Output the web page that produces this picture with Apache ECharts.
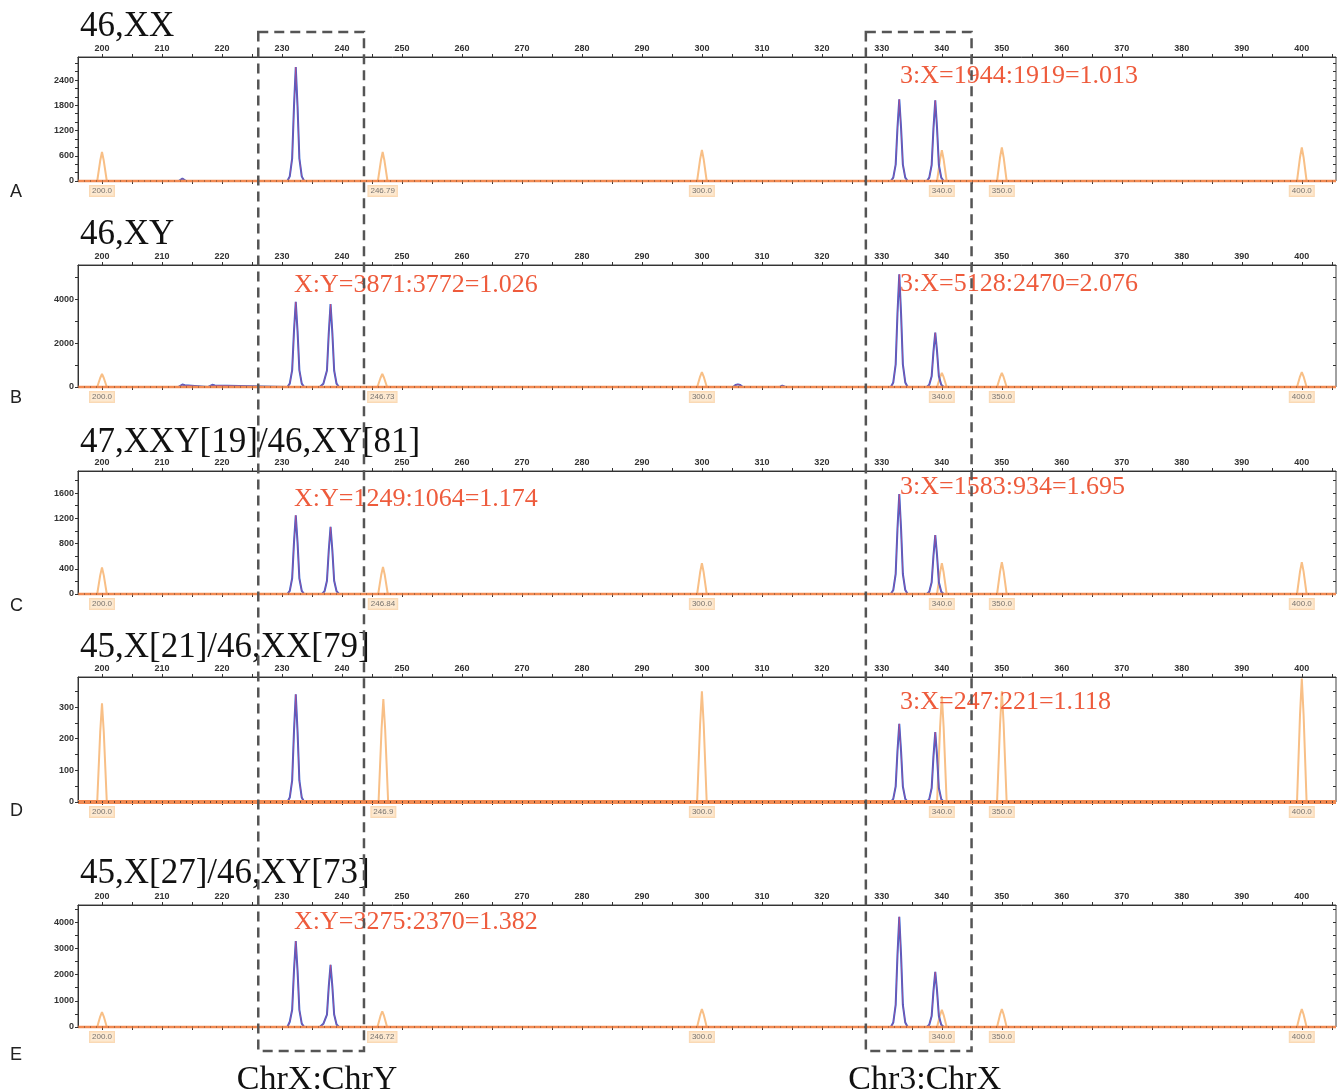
<!DOCTYPE html>
<html><head><meta charset="utf-8">
<script src="https://cdn.jsdelivr.net/npm/echarts@6/dist/echarts.min.js"></script>
<style>html,body{margin:0;padding:0;background:#fff}#c{width:1341px;height:1092px}</style>
</head><body><div id="c"></div>
<script>
// ---------- DATA ----------
const panelLetters = ['A', 'B', 'C', 'D', 'E'];
const karyotypes = ['46,XX', '46,XY', '47,XXY[19]/46,XY[81]', '45,X[21]/46,XX[79]', '45,X[27]/46,XY[73]'];
const xTickLabels = [200, 210, 220, 230, 240, 250, 260, 270, 280, 290, 300, 310, 320, 330, 340, 350, 360, 370, 380, 390, 400];
const xTickMarks = [200, 205, 210, 215, 220, 225, 230, 235, 240, 245, 250, 255, 260, 265, 270, 275, 280, 285, 290, 295, 300, 305, 310, 315, 320, 325, 330, 335, 340, 345, 350, 355, 360, 365, 370, 375, 380, 385, 390, 395, 400, 405];
const yMaxA = 2950, yMaxB = 5550, yMaxC = 1950, yMaxD = 395, yMaxE = 4650;
const yLabelsA = [0, 600, 1200, 1800, 2400];
const yLabelsB = [0, 2000, 4000];
const yLabelsC = [0, 400, 800, 1200, 1600];
const yLabelsD = [0, 100, 200, 300];
const yLabelsE = [0, 1000, 2000, 3000, 4000];
const yTicksA = [0, 200, 400, 600, 800, 1000, 1200, 1400, 1600, 1800, 2000, 2200, 2400, 2600, 2800];
const yTicksB = [0, 1000, 2000, 3000, 4000, 5000];
const yTicksC = [0, 200, 400, 600, 800, 1000, 1200, 1400, 1600, 1800];
const yTicksD = [0, 50, 100, 150, 200, 250, 300, 350];
const yTicksE = [0, 500, 1000, 1500, 2000, 2500, 3000, 3500, 4000, 4500];

// size-standard peak positions and their labels
const stdPosA = [200, 246.79, 300, 340, 350, 400];
const stdPosB = [200, 246.73, 300, 340, 350, 400];
const stdPosC = [200, 246.84, 300, 340, 350, 400];
const stdPosD = [200, 246.9, 300, 340, 350, 400];
const stdPosE = [200, 246.72, 300, 340, 350, 400];
const stdLblA = ['200.0', '246.79', '300.0', '340.0', '350.0', '400.0'];
const stdLblB = ['200.0', '246.73', '300.0', '340.0', '350.0', '400.0'];
const stdLblC = ['200.0', '246.84', '300.0', '340.0', '350.0', '400.0'];
const stdLblD = ['200.0', '246.9', '300.0', '340.0', '350.0', '400.0'];
const stdLblE = ['200.0', '246.72', '300.0', '340.0', '350.0', '400.0'];

// blue (sample) traces: [size, RFU]
const blueA = [[196,0],
 [212.8,0],[213.1,40],[213.4,60],[213.7,40],[214.0,0],
 [230.9,0],[231.3,110],[231.7,540],[232.0,1760],[232.3,2710],[232.6,1760],[232.9,540],[233.3,110],[233.7,0],
 [331.5,0],[331.9,80],[332.3,390],[332.6,1260],[332.9,1944],[333.2,1260],[333.5,390],[333.9,80],[334.3,0],
 [337.5,0],[337.9,80],[338.3,380],[338.6,1250],[338.9,1919],[339.2,1250],[339.5,380],[339.9,80],[340.3,0],
 [405.7,0]];
const blueB = [[196,0],
 [212.7,0],[213.0,80],[213.4,110],[213.8,80],[214.1,0],
 [217.7,0],[218.0,70],[218.4,100],[218.8,70],[219.1,0],
 [230.9,0],[231.3,155],[231.7,770],[232.0,2520],[232.3,3871],[232.6,2520],[232.9,770],[233.3,155],[233.7,0],
 [236.3,0],[236.9,150],[237.5,750],[237.8,2450],[238.1,3772],[238.4,2450],[238.7,750],[239.1,150],[239.5,0],
 [305.2,0],[305.6,90],[306.0,120],[306.4,90],[306.8,0],
 [313.0,0],[313.2,40],[313.4,60],[313.6,40],[313.9,0],
 [331.5,0],[331.9,205],[332.3,1030],[332.6,3330],[332.9,5128],[333.2,3330],[333.5,1030],[333.9,205],[334.3,0],
 [337.5,0],[337.9,100],[338.3,490],[338.6,1610],[338.9,2470],[339.2,1610],[339.5,490],[339.9,100],[340.3,0],
 [405.7,0]];
const blueC = [[196,0],
 [230.9,0],[231.3,50],[231.7,250],[232.0,810],[232.3,1249],[232.6,810],[232.9,250],[233.3,50],[233.7,0],
 [236.7,0],[237.1,45],[237.5,210],[237.8,690],[238.1,1064],[238.4,690],[238.7,210],[239.1,45],[239.5,0],
 [331.5,0],[331.9,63],[332.3,317],[332.6,1030],[332.9,1583],[333.2,1030],[333.5,317],[333.9,63],[334.3,0],
 [337.5,0],[337.9,37],[338.3,187],[338.6,607],[338.9,934],[339.2,607],[339.5,187],[339.9,37],[340.3,0],
 [405.7,0]];
const blueD = [[196,0],
 [230.9,0],[231.3,14],[231.7,68],[232.0,221],[232.3,340],[232.6,221],[232.9,68],[233.3,14],[233.7,0],
 [331.5,0],[331.9,10],[332.3,49],[332.6,160],[332.9,247],[333.2,160],[333.5,49],[333.9,10],[334.3,0],
 [337.5,0],[337.9,9],[338.3,44],[338.6,144],[338.9,221],[339.2,144],[339.5,44],[339.9,9],[340.3,0],
 [405.7,0]];
const blueE = [[196,0],
 [230.9,0],[231.3,200],[231.7,655],[232.0,2130],[232.3,3275],[232.6,2130],[232.9,655],[233.3,130],[233.7,0],
 [236.3,0],[236.9,120],[237.5,474],[237.8,1540],[238.1,2370],[238.4,1540],[238.7,474],[239.1,95],[239.5,0],
 [331.5,0],[331.9,168],[332.3,840],[332.6,2730],[332.9,4200],[333.2,2730],[333.5,840],[333.9,168],[334.3,0],
 [337.5,0],[337.9,84],[338.3,420],[338.6,1365],[338.9,2100],[339.2,1365],[339.5,420],[339.9,84],[340.3,0],
 [405.7,0]];

// orange (size standard) traces
const orangeA = [[196,0],
 [199.2,0],[199.7,480],[200,690],[200.3,480],[200.8,0],
 [245.99,0],[246.49,480],[246.79,690],[247.09,480],[247.59,0],
 [299.2,0],[299.7,515],[300,740],[300.3,515],[300.8,0],
 [339.2,0],[339.7,510],[340,730],[340.3,510],[340.8,0],
 [349.2,0],[349.7,560],[350,800],[350.3,560],[350.8,0],
 [399.2,0],[399.7,560],[400,800],[400.3,560],[400.8,0],
 [405.7,0]];
const orangeB = [[196,0],
 [199.2,0],[199.7,410],[200,590],[200.3,410],[200.8,0],
 [245.93,0],[246.43,410],[246.73,590],[247.03,410],[247.53,0],
 [299.2,0],[299.7,475],[300,680],[300.3,475],[300.8,0],
 [339.2,0],[339.7,445],[340,640],[340.3,445],[340.8,0],
 [349.2,0],[349.7,445],[350,640],[350.3,445],[350.8,0],
 [399.2,0],[399.7,475],[400,680],[400.3,475],[400.8,0],
 [405.7,0]];
const orangeC = [[196,0],
 [199.2,0],[199.7,295],[200,420],[200.3,295],[200.8,0],
 [246.04,0],[246.54,300],[246.84,430],[247.14,300],[247.64,0],
 [299.2,0],[299.7,340],[300,490],[300.3,340],[300.8,0],
 [339.2,0],[339.7,340],[340,490],[340.3,340],[340.8,0],
 [349.2,0],[349.7,355],[350,505],[350.3,355],[350.8,0],
 [399.2,0],[399.7,355],[400,505],[400.3,355],[400.8,0],
 [405.7,0]];
const orangeD = [[196,0],
 [199.2,0],[199.7,220],[200,312],[200.3,220],[200.8,0],
 [246.1,0],[246.6,230],[246.9,325],[247.2,230],[247.7,0],
 [299.2,0],[299.7,245],[300,350],[300.3,245],[300.8,0],
 [339.2,0],[339.7,235],[340,335],[340.3,235],[340.8,0],
 [349.2,0],[349.7,245],[350,350],[350.3,245],[350.8,0],
 [399.2,0],[399.7,275],[400,390],[400.3,275],[400.8,0],
 [405.7,0]];
const orangeE = [[196,0],
 [199.2,0],[199.7,400],[200,570],[200.3,400],[200.8,0],
 [245.92,0],[246.42,420],[246.72,600],[247.02,420],[247.52,0],
 [299.2,0],[299.7,475],[300,680],[300.3,475],[300.8,0],
 [339.2,0],[339.7,455],[340,650],[340.3,455],[340.8,0],
 [349.2,0],[349.7,475],[350,680],[350.3,475],[350.8,0],
 [399.2,0],[399.7,475],[400,680],[400.3,475],[400.8,0],
 [405.7,0]];

// ratio annotations per panel: [left, right]
const ratioLeft = ['', 'X:Y=3871:3772=1.026', 'X:Y=1249:1064=1.174', '', 'X:Y=3275:2370=1.382'];
const ratioRight = ['3:X=1944:1919=1.013', '3:X=5128:2470=2.076', '3:X=1583:934=1.695', '3:X=247:221=1.118', ''];
const boxLabels = ['ChrX:ChrY', 'Chr3:ChrX'];
const boxRanges = [[226.05, 243.67], [327.33, 344.95]];

// ---------- LAYOUT ----------
const X_MIN = 196, X_MAX = 405.7;
const gridTops = [57, 265, 471, 677, 905];
const gridHeights = [124, 122, 123, 125, 122];
const GL = 78, GR = 5;
const titleY = [23, 231, 439, 644, 870];
const letterY = [192, 398, 606, 811, 1055];
const ratioLeftY = [0, 285, 499, 0, 922];
const ratioRightY = [76, 284, 487, 702, 0];

const yMaxes = [yMaxA, yMaxB, yMaxC, yMaxD, yMaxE];
const yLabels = [yLabelsA, yLabelsB, yLabelsC, yLabelsD, yLabelsE];
const yTicks = [yTicksA, yTicksB, yTicksC, yTicksD, yTicksE];
const stdPos = [stdPosA, stdPosB, stdPosC, stdPosD, stdPosE];
const stdLbl = [stdLblA, stdLblB, stdLblC, stdLblD, stdLblE];
const blues = [blueA, blueB, blueC, blueD, blueE];
const oranges = [orangeA, orangeB, orangeC, orangeD, orangeE];

const AX = '#333';
const grids = [], xAxes = [], yAxes = [], series = [];
for (let i = 0; i < 5; i++) {
  grids.push({left: GL, right: GR, top: gridTops[i], height: gridHeights[i], show: true,
    borderColor: '#444', borderWidth: 1, backgroundColor: 'transparent'});
  xAxes.push({gridIndex: i, type: 'value', position: 'top', min: X_MIN, max: X_MAX,
    axisLine: {show: true, onZero: false, lineStyle: {color: AX, width: 1}},
    axisTick: {show: true, customValues: xTickMarks, length: 3, lineStyle: {color: AX}},
    axisLabel: {customValues: xTickLabels, fontSize: 9, fontWeight: 'bold', color: '#333', margin: 4,
      fontFamily: 'Liberation Sans', formatter: v => String(v)},
    splitLine: {show: false}});
  xAxes.push({gridIndex: i, type: 'value', position: 'top', min: X_MIN, max: X_MAX,
    axisLine: {show: false}, axisLabel: {show: false}, splitLine: {show: false},
    axisTick: {show: true, inside: true, customValues: xTickMarks, length: 3, lineStyle: {color: AX}}});
  yAxes.push({gridIndex: i, type: 'value', min: 0, max: yMaxes[i],
    axisLine: {show: true, onZero: false, lineStyle: {color: AX, width: 1}},
    axisTick: {show: true, customValues: yTicks[i], length: 3, lineStyle: {color: AX}},
    axisLabel: {customValues: yLabels[i], fontSize: 9, fontWeight: 'bold', color: '#333', margin: 4,
      fontFamily: 'Liberation Sans', formatter: v => String(v)},
    splitLine: {show: false}});
  yAxes.push({gridIndex: i, type: 'value', min: 0, max: yMaxes[i],
    axisLine: {show: false}, axisLabel: {show: false}, splitLine: {show: false},
    axisTick: {show: true, inside: true, customValues: yTicks[i], length: 3, lineStyle: {color: AX}}});
  const xi = 2 * i, yi = 2 * i;
  series.push({type: 'line', xAxisIndex: xi, yAxisIndex: yi, data: oranges[i], showSymbol: false, symbol: 'none',
    lineStyle: {color: '#f8bf86', width: 2}, z: 2, clip: false, silent: true});
  series.push({type: 'line', xAxisIndex: xi, yAxisIndex: yi, data: blues[i], showSymbol: false, symbol: 'none',
    lineStyle: {color: '#2d64d8', width: 2}, z: 3, clip: false, silent: true});
  series.push({type: 'line', xAxisIndex: xi, yAxisIndex: yi, data: blues[i], showSymbol: false, symbol: 'none',
    lineStyle: {color: '#e8406e', width: 0.7, opacity: 0.8}, z: 4, clip: false, silent: true});
  series.push({type: 'line', xAxisIndex: xi, yAxisIndex: yi, data: [[X_MIN, 0], [X_MAX, 0]], showSymbol: false, symbol: 'none',
    lineStyle: {color: '#f28a52', width: i === 3 ? 4 : 2.5}, z: 5, clip: false, silent: true});
  series.push({type: 'line', xAxisIndex: xi, yAxisIndex: yi, data: [[X_MIN, 0], [X_MAX, 0]], showSymbol: false, symbol: 'none',
    lineStyle: {color: '#222', width: i === 3 ? 2 : 1, type: [1, 5], opacity: 0.7}, z: 6, clip: false, silent: true});
  series.push({type: 'scatter', xAxisIndex: xi, yAxisIndex: yi, symbolSize: 2, clip: false, silent: true, z: 7,
    itemStyle: {color: 'rgba(0,0,0,0)'},
    data: stdPos[i].map((x, j) => ({value: [x, 0], name: stdLbl[i][j]})),
    labelLayout: {hideOverlap: false},
    label: {show: true, position: 'bottom', distance: 4, formatter: '{b}', fontSize: 8, color: '#555',
      fontFamily: 'Liberation Sans', backgroundColor: '#fde3c6', borderColor: '#f9cfa3', borderWidth: 1, padding: [1, 2]}});
}

const chart = echarts.init(document.getElementById('c'), null, {renderer: 'canvas'});
chart.setOption({animation: false, backgroundColor: '#ffffff', grid: grids, xAxis: xAxes, yAxis: yAxes, series: series});

// ---------- ANNOTATIONS ----------
const graphics = [];
const serif = '"Liberation Serif", "Times New Roman", serif';
for (let i = 0; i < 5; i++) {
  graphics.push({type: 'text', left: 80, top: titleY[i] - 14, z: 50,
    style: {text: karyotypes[i], font: '35px ' + serif, fill: '#111'}});
  graphics.push({type: 'text', x: 10, y: letterY[i], z: 50,
    style: {text: panelLetters[i], font: '18px "Liberation Sans", Arial, sans-serif', fill: '#222', textVerticalAlign: 'middle'}});
  if (ratioLeft[i]) graphics.push({type: 'text', x: 294, y: ratioLeftY[i], z: 50,
    style: {text: ratioLeft[i], font: '26px ' + serif, fill: '#ee5b3c', textVerticalAlign: 'middle'}});
  if (ratioRight[i]) graphics.push({type: 'text', x: 900, y: ratioRightY[i], z: 50,
    style: {text: ratioRight[i], font: '26px ' + serif, fill: '#ee5b3c', textVerticalAlign: 'middle'}});
}
for (let b = 0; b < 2; b++) {
  const x1 = chart.convertToPixel({xAxisIndex: 0}, boxRanges[b][0]);
  const x2 = chart.convertToPixel({xAxisIndex: 0}, boxRanges[b][1]);
  graphics.push({type: 'rect', z: 60, silent: true,
    shape: {x: x1, y: 32, width: x2 - x1, height: 1051 - 32},
    style: {fill: 'none', stroke: '#555', lineWidth: 2.5, lineDash: [10, 6]}});
  graphics.push({type: 'text', x: (x1 + x2) / 2 + 6, y: 1080, z: 50,
    style: {text: boxLabels[b], font: '34px ' + serif, fill: '#111', textAlign: 'center', textVerticalAlign: 'middle'}});
}
chart.setOption({graphic: graphics});
</script></body></html>
